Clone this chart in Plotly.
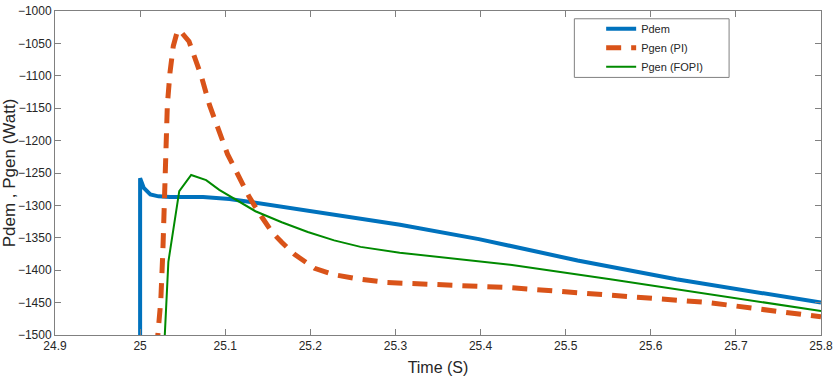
import plotly.graph_objects as go

# Pdem
t_dem = [25.0, 25.0, 25.0043, 25.012, 25.0216, 25.035, 25.074, 25.105, 25.1317, 25.1626,
         25.199, 25.2475, 25.3054, 25.398, 25.514, 25.63, 25.746, 25.8]
p_dem = [-1520, -1258, -1273, -1283, -1286, -1287, -1287, -1290, -1295, -1301,
         -1309, -1319, -1330, -1352, -1385, -1414, -1438, -1450]

# Pgen (PI)
t_pi = [25.0195, 25.0208, 25.0243, 25.0267, 25.0286, 25.0305, 25.032, 25.0351, 25.039, 25.0436,
        25.046, 25.0575, 25.064, 25.0718, 25.0815, 25.091, 25.1027, 25.1162, 25.1278, 25.1394,
        25.1548, 25.1664, 25.1818, 25.205, 25.228, 25.259, 25.29, 25.436, 25.545, 25.668, 25.8]
p_pi = [-1520, -1500, -1447, -1372, -1296, -1221, -1145, -1095, -1054, -1032,
        -1029, -1047, -1069, -1100, -1145, -1180, -1221, -1256, -1286, -1311,
        -1341, -1357, -1376, -1397, -1407, -1414, -1419, -1427, -1437, -1450, -1472]

# Pgen (FOPI)
t_fopi = [25.028, 25.029, 25.0332, 25.046, 25.060, 25.0776, 25.093, 25.112, 25.1355, 25.1664,
          25.197, 25.228, 25.259, 25.305, 25.437, 25.5525, 25.668, 25.8]
p_fopi = [-1520, -1500, -1387, -1278, -1253, -1261, -1276, -1291, -1309, -1326,
          -1341, -1354, -1364, -1373, -1392, -1414, -1437, -1463]

x_ticks = [24.9, 25.0, 25.1, 25.2, 25.3, 25.4, 25.5, 25.6, 25.7, 25.8]
x_labels = ["24.9", "25", "25.1", "25.2", "25.3", "25.4", "25.5", "25.6", "25.7", "25.8"]
y_ticks = [-1000, -1050, -1100, -1150, -1200, -1250, -1300, -1350, -1400, -1450, -1500]

fig = go.Figure()
fig.add_trace(go.Scatter(x=t_dem, y=p_dem, mode="lines", name="Pdem",
                         line=dict(color="#0072BD", width=4)))
fig.add_trace(go.Scatter(x=t_pi, y=p_pi, mode="lines", name="Pgen (PI)",
                         line=dict(color="#D95319", width=5, dash="15px,10px")))
fig.add_trace(go.Scatter(x=t_fopi, y=p_fopi, mode="lines", name="Pgen (FOPI)",
                         line=dict(color="#008a00", width=2)))

axis_common = dict(showline=True, linecolor="#808080", linewidth=1, mirror="ticks",
                   ticks="inside", ticklen=6, tickcolor="#808080", showgrid=False,
                   zeroline=False, ticklabeloverflow="allow",
                   tickfont=dict(family="Liberation Sans, Arial", size=12, color="#262626"))

fig.update_xaxes(range=[24.9, 25.8], tickvals=x_ticks, ticktext=x_labels,
                 title=dict(text="Time (S)", font=dict(family="Liberation Sans, Arial", size=16, color="#262626"),
                            standoff=9),
                 **axis_common)
fig.update_yaxes(range=[-1500, -1000], tickvals=y_ticks,
                 title=dict(text="Pdem , Pgen (Watt)", font=dict(family="Liberation Sans, Arial", size=17, color="#262626"),
                            standoff=2),
                 **axis_common)

fig.add_shape(type="rect", xref="paper", yref="paper",
              x0=0.678, x1=0.880, y0=0.795, y1=0.976,
              line=dict(color="#808080", width=1), fillcolor="white", layer="below")

fig.update_layout(
    width=837, height=378,
    margin=dict(l=50, r=10, t=4, b=43),
    paper_bgcolor="white", plot_bgcolor="white",
    showlegend=True,
    legend=dict(x=0.713, y=0.99, xanchor="left", yanchor="top",
                bgcolor="rgba(0,0,0,0)", borderwidth=0,
                font=dict(family="Liberation Sans, Arial", size=11, color="#262626"),
                tracegroupgap=0),
)

fig.write_html("out.html", config={"displayModeBar": False},
               post_script="document.body.style.margin='0';")
